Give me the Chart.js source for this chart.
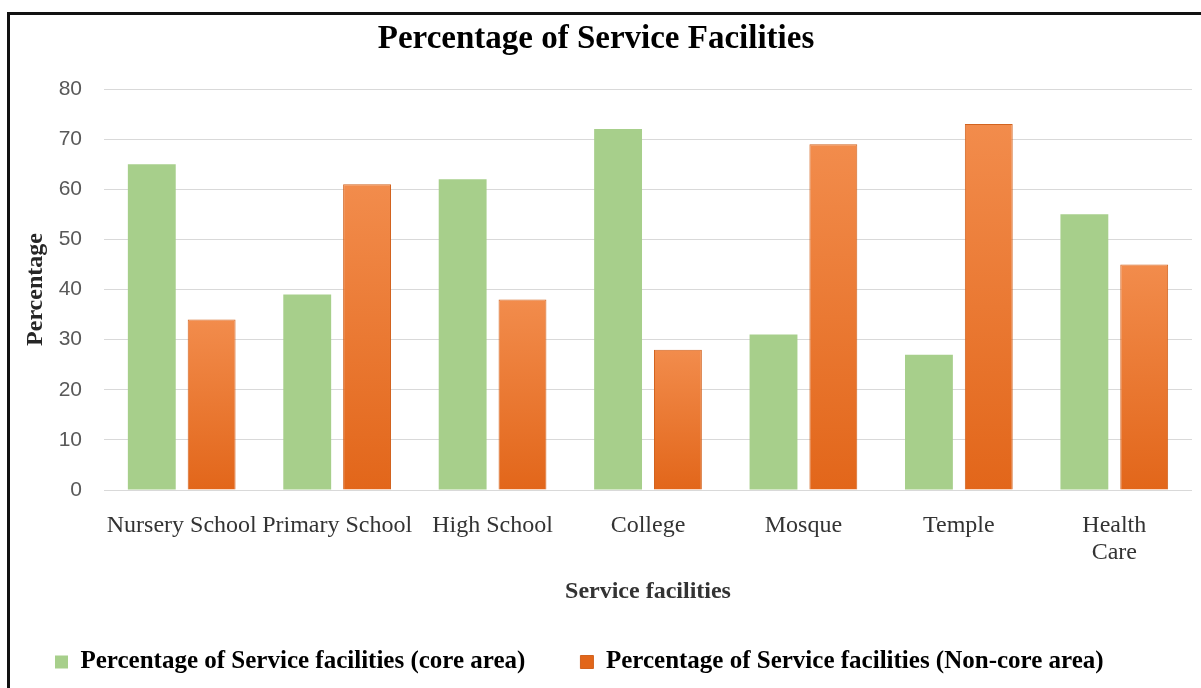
<!DOCTYPE html>
<html>
<head>
<meta charset="utf-8">
<title>Percentage of Service Facilities</title>
<script src="https://cdn.jsdelivr.net/npm/chart.js@4"></script>
<style>
  html, body { margin: 0; padding: 0; background: #fff; overflow: hidden; }
  #wrap { position: relative; width: 1201px; height: 688px; }
  #frame { position: absolute; left: 7px; top: 12px; width: 1300px; height: 800px; border: 3px solid #111; box-sizing: border-box; }
  #serviceChart { position: absolute; left: 0; top: 0; }
</style>
</head>
<body>
<div id="wrap">
  <div id="frame"></div>
  <canvas id="serviceChart" width="1201" height="688"></canvas>
</div>
<script>
const categories = ['Nursery School', 'Primary School', 'High School', 'College', 'Mosque', 'Temple', ['Health', 'Care']];
const coreArea = [65, 39, 62, 72, 31, 27, 55];
const nonCoreArea = [34, 61, 38, 28, 69, 73, 45];
const yTicks = { min: 0, max: 80, step: 10 };

const serif = "'Liberation Serif', 'Times New Roman', serif";
const sans = "'Liberation Sans', Arial, sans-serif";

function orangeFill(ctx) {
  const chart = ctx.chart;
  const area = chart.chartArea;
  if (!area || ctx.type !== 'data') return '#EB7A2E';
  const top = chart.scales.y.getPixelForValue(ctx.raw);
  const g = chart.ctx.createLinearGradient(0, top, 0, area.bottom);
  g.addColorStop(0, '#F28C4C');
  g.addColorStop(1, '#E2661A');
  return g;
}

const serviceElement = document.getElementById('serviceChart');

new Chart(serviceElement, {
  type: 'bar',
  data: {
    labels: categories,
    datasets: [
      {
        label: 'Percentage of Service facilities (core area)',
        data: coreArea,
        backgroundColor: '#A7CF8B',
        borderWidth: 0
      },
      {
        label: 'Percentage of Service facilities (Non-core area)',
        data: nonCoreArea,
        backgroundColor: orangeFill,
        borderColor: '#D2631F',
        borderWidth: 1
      }
    ]
  },
  options: {
    responsive: false,
    animation: false,
    categoryPercentage: 0.77,
    barPercentage: 0.8,
    layout: {
      padding: { left: 0, right: 9, top: 0, bottom: 3.5 }
    },
    plugins: {
      tooltip: { enabled: false },
      title: {
        display: true,
        text: 'Percentage of Service Facilities',
        color: '#000',
        font: { family: serif, size: 33, weight: 'bold' },
        padding: { top: 20, bottom: 29.4 }
      },
      legend: {
        position: 'bottom',
        align: 'start',
        labels: {
          boxWidth: 13,
          boxHeight: 13,
          padding: 55,
          color: '#000',
          font: { family: serif, size: 25, weight: 'bold' }
        }
      }
    },
    scales: {
      x: {
        grid: { display: false },
        border: { display: false },
        ticks: {
          color: '#333',
          padding: 15,
          maxRotation: 0,
          autoSkip: false,
          font: { family: serif, size: 24, lineHeight: 1.1 }
        },
        title: {
          display: true,
          text: 'Service facilities',
          color: '#333',
          font: { family: serif, size: 24, weight: 'bold' },
          padding: { top: 0, bottom: -12 }
        },
        afterFit: function (scale) { scale.height = 104.5; }
      },
      y: {
        min: yTicks.min,
        max: yTicks.max,
        grid: { color: '#D9D9D9', lineWidth: 1, drawTicks: false },
        border: { display: false },
        ticks: {
          stepSize: yTicks.step,
          color: '#595959',
          padding: 22,
          font: { family: sans, size: 21 }
        },
        title: {
          display: true,
          text: 'Percentage',
          color: '#262626',
          font: { family: serif, size: 24, weight: 'bold' },
          padding: { top: 21, bottom: 0 }
        },
        afterFit: function (scale) { scale.width = 104; }
      }
    }
  }
});
</script>
</body>
</html>
